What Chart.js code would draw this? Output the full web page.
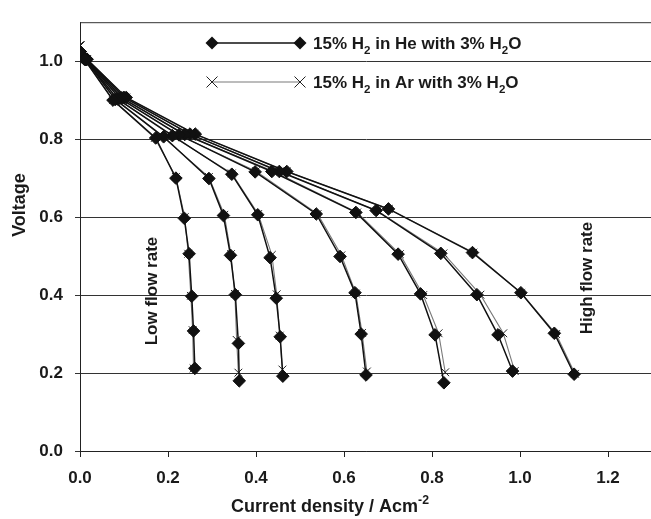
<!DOCTYPE html>
<html>
<head>
<meta charset="utf-8">
<script src="https://cdn.jsdelivr.net/npm/chart.js@4.4.1/dist/chart.umd.min.js"></script>
<style>
html,body{margin:0;padding:0;background:#fff;overflow:hidden;}
#wrap{width:660px;height:519px;}
</style>
</head>
<body>
<div id="wrap"><canvas id="c" width="660" height="519"></canvas></div>
<script>
// Current density (A cm^-2) / voltage (V) for 7 flow rates, low -> high
const heCurrent = [
  [0, 0.010, 0.075, 0.172, 0.218, 0.237, 0.248, 0.254, 0.258, 0.261],
  [0, 0.012, 0.080, 0.190, 0.293, 0.326, 0.342, 0.353, 0.360, 0.362],
  [0, 0.012, 0.085, 0.210, 0.345, 0.404, 0.432, 0.446, 0.455, 0.461],
  [0, 0.013, 0.090, 0.225, 0.398, 0.537, 0.591, 0.625, 0.639, 0.650],
  [0, 0.014, 0.095, 0.238, 0.436, 0.627, 0.723, 0.774, 0.807, 0.827],
  [0, 0.015, 0.100, 0.250, 0.453, 0.673, 0.820, 0.902, 0.950, 0.983],
  [0, 0.016, 0.105, 0.262, 0.470, 0.701, 0.892, 1.002, 1.078, 1.123]
];
const heVoltage = [
  [1.025, 1.005, 0.900, 0.803, 0.700, 0.597, 0.506, 0.397, 0.308, 0.212],
  [1.025, 1.005, 0.902, 0.806, 0.699, 0.604, 0.502, 0.401, 0.276, 0.180],
  [1.025, 1.005, 0.903, 0.809, 0.710, 0.606, 0.496, 0.392, 0.293, 0.192],
  [1.025, 1.005, 0.905, 0.811, 0.716, 0.608, 0.499, 0.406, 0.300, 0.195],
  [1.025, 1.005, 0.906, 0.812, 0.717, 0.612, 0.505, 0.403, 0.298, 0.175],
  [1.025, 1.005, 0.907, 0.813, 0.717, 0.617, 0.507, 0.401, 0.298, 0.205],
  [1.025, 1.005, 0.907, 0.813, 0.717, 0.621, 0.509, 0.406, 0.302, 0.197]
];
const arCurrent = [
  [0, 0.010, 0.075, 0.170, 0.218, 0.238, 0.246, 0.252, 0.256, 0.258],
  [0, 0.012, 0.080, 0.188, 0.293, 0.328, 0.343, 0.352, 0.356, 0.360],
  [0, 0.012, 0.085, 0.208, 0.345, 0.405, 0.436, 0.447, 0.454, 0.460],
  [0, 0.013, 0.090, 0.223, 0.400, 0.540, 0.594, 0.627, 0.641, 0.652],
  [0, 0.014, 0.095, 0.237, 0.438, 0.630, 0.727, 0.780, 0.815, 0.830],
  [0, 0.015, 0.100, 0.249, 0.455, 0.676, 0.826, 0.910, 0.962, 0.988],
  [0, 0.016, 0.105, 0.260, 0.470, 0.702, 0.894, 1.003, 1.082, 1.125]
];
const arVoltage = [
  [1.040, 1.005, 0.900, 0.803, 0.703, 0.600, 0.506, 0.398, 0.310, 0.212],
  [1.040, 1.005, 0.902, 0.806, 0.703, 0.606, 0.505, 0.403, 0.285, 0.201],
  [1.040, 1.005, 0.903, 0.809, 0.712, 0.608, 0.503, 0.402, 0.296, 0.209],
  [1.040, 1.005, 0.905, 0.811, 0.718, 0.608, 0.502, 0.404, 0.303, 0.204],
  [1.040, 1.005, 0.906, 0.812, 0.718, 0.612, 0.505, 0.400, 0.302, 0.202],
  [1.040, 1.005, 0.907, 0.813, 0.717, 0.616, 0.507, 0.401, 0.302, 0.205],
  [1.040, 1.005, 0.907, 0.813, 0.717, 0.621, 0.509, 0.405, 0.300, 0.198]
];
const seriesNames = ['15% H2 in He with 3% H2O', '15% H2 in Ar with 3% H2O'];
const xTicks = [0, 0.2, 0.4, 0.6, 0.8, 1.0, 1.2];
const yTicks = [0, 0.2, 0.4, 0.6, 0.8, 1.0];

const FONT = "'Liberation Sans', Arial, sans-serif";
const INK = '#1a1a1a';

function pts(xs, ys){ return xs.map((x,i)=>({x:x, y:ys[i]})); }

const datasets = [];
heCurrent.forEach((xs,i)=>{
  datasets.push({
    label: seriesNames[0], data: pts(xs, heVoltage[i]),
    borderColor:'#111', borderWidth:1.5, backgroundColor:'#111',
    pointStyle:'rectRot', pointRadius:6.3, pointBorderWidth:1, pointBorderColor:'#111',
    pointBackgroundColor:'#111', showLine:true, tension:0, order:0
  });
});
arCurrent.forEach((xs,i)=>{
  datasets.push({
    label: seriesNames[1], data: pts(xs, arVoltage[i]),
    borderColor:'#7a7a7a', borderWidth:1.1, backgroundColor:'#222',
    pointStyle:'crossRot', pointRadius:5.5, pointBorderWidth:1, pointBorderColor:'#222',
    showLine:true, tension:0, order:1
  });
});

function drawRich(ctx, parts, x, y, size, align){
  ctx.save();
  ctx.translate(x, y);
  let w = 0;
  parts.forEach(p=>{
    const s = p.sub||p.sup ? size*0.68 : size;
    ctx.font = 'bold ' + s + 'px ' + FONT;
    w += ctx.measureText(p.t).width;
  });
  let cx = align==='center' ? -w/2 : 0;
  ctx.textBaseline = 'alphabetic';
  ctx.textAlign = 'left';
  ctx.fillStyle = INK;
  parts.forEach(p=>{
    const s = p.sub||p.sup ? size*0.68 : size;
    ctx.font = 'bold ' + s + 'px ' + FONT;
    const dy = p.sub ? size*0.28 : (p.sup ? -size*0.45 : 0);
    ctx.fillText(p.t, cx, dy);
    cx += ctx.measureText(p.t).width;
  });
  ctx.restore();
}

function rotText(ctx, text, x, y, size){
  ctx.save();
  ctx.translate(x, y); ctx.rotate(-Math.PI/2);
  ctx.font = 'bold ' + size + 'px ' + FONT; ctx.fillStyle = INK;
  ctx.textAlign = 'center'; ctx.textBaseline = 'middle';
  ctx.fillText(text, 0, 0);
  ctx.restore();
}

const decor = {
  id:'decor',
  afterDraw(chart){
    const ctx = chart.ctx, ca = chart.chartArea;
    ctx.save();
    // top border of plot area
    ctx.strokeStyle = '#333'; ctx.lineWidth = 1;
    ctx.beginPath(); ctx.moveTo(ca.left, ca.top+0.5); ctx.lineTo(ca.right, ca.top+0.5); ctx.stroke();
    // legend row 1
    const x1 = 212, x2 = 300, y1 = 43, y2 = 82;
    ctx.strokeStyle = '#111'; ctx.lineWidth = 1.5;
    ctx.beginPath(); ctx.moveTo(x1, y1); ctx.lineTo(x2, y1); ctx.stroke();
    ctx.fillStyle = '#111';
    [x1,x2].forEach(x=>{
      ctx.beginPath(); ctx.moveTo(x, y1-6.5); ctx.lineTo(x+6.5, y1); ctx.lineTo(x, y1+6.5); ctx.lineTo(x-6.5, y1); ctx.closePath(); ctx.fill();
    });
    // legend row 2
    ctx.strokeStyle = '#7a7a7a'; ctx.lineWidth = 1.1;
    ctx.beginPath(); ctx.moveTo(x1, y2); ctx.lineTo(x2, y2); ctx.stroke();
    ctx.strokeStyle = '#222'; ctx.lineWidth = 1;
    [x1,x2].forEach(x=>{
      ctx.beginPath(); ctx.moveTo(x-5.5,y2-5.5); ctx.lineTo(x+5.5,y2+5.5); ctx.moveTo(x+5.5,y2-5.5); ctx.lineTo(x-5.5,y2+5.5); ctx.stroke();
    });
    drawRich(ctx, [{t:'15% H'},{t:'2',sub:true},{t:' in He with 3% H'},{t:'2',sub:true},{t:'O'}], 313, y1+6, 17);
    drawRich(ctx, [{t:'15% H'},{t:'2',sub:true},{t:' in Ar with 3% H'},{t:'2',sub:true},{t:'O'}], 313, y2+6, 17);
    // axis titles
    drawRich(ctx, [{t:'Current density / Acm'},{t:'-2',sup:true}], 330, 512, 18, 'center');
    rotText(ctx, 'Voltage', 20, 205, 18);
    // annotations
    rotText(ctx, 'Low flow rate', 152, 291, 17);
    rotText(ctx, 'High flow rate', 587, 278, 17);
    ctx.restore();
  }
};

new Chart(document.getElementById('c'), {
  type:'scatter',
  data:{datasets},
  options:{
    responsive:false, animation:false,
    layout:{padding:{top:15, right:8, left:0, bottom:0}},
    plugins:{legend:{display:false}, tooltip:{enabled:false}},
    elements:{line:{borderJoinStyle:'miter'}},
    scales:{
      x:{
        type:'linear', min:0, max:1.3,
        afterFit(s){ s.height = 68; },
        afterBuildTicks(s){ s.ticks = xTicks.map(v=>({value:v})); },
        grid:{drawOnChartArea:false, drawTicks:true, tickLength:6, color:'#222'},
        border:{color:'#222', width:1},
        ticks:{font:{family:FONT, size:17, weight:'bold'}, color:INK, padding:11,
          callback:v=>Number(v).toFixed(1)},
        title:{display:false}
      },
      y:{
        type:'linear', min:0, max:1.1,
        afterFit(s){ s.width = 80; },
        afterBuildTicks(s){ s.ticks = yTicks.map(v=>({value:v})); },
        grid:{drawOnChartArea:true, drawTicks:true, tickLength:5, color:'#333', lineWidth:1},
        border:{color:'#222', width:1},
        ticks:{font:{family:FONT, size:17, weight:'bold'}, color:INK, padding:12,
          callback:v=>Number(v).toFixed(1)},
        title:{display:false, text:'Voltage'}
      }
    }
  },
  plugins:[decor]
});
</script>
</body>
</html>
